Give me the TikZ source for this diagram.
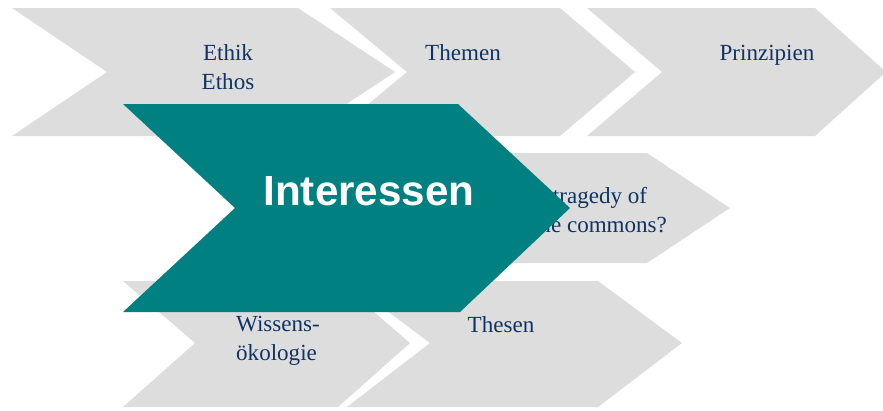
\documentclass[tikz,border=0pt]{standalone}
\usepackage{fontspec}
\setmainfont{Liberation Serif}
\newfontfamily\headfont{Liberation Sans}
\usetikzlibrary{positioning}
\definecolor{chevgrey}{RGB}{221,221,221}
\definecolor{chevteal}{RGB}{0,128,128}
\definecolor{labelblue}{RGB}{16,52,100}
\tikzset{
    greychev/.style={
        fill=chevgrey
    },
    tealchev/.style={
        fill=chevteal
    },
    chevtext/.style={
        text=labelblue,
        font=\fontsize{16.4}{20.6}\selectfont,
        align=center,
        anchor=base,
        inner sep=0pt
    },
    headtext/.style={
        text=white,
        font=\headfont\bfseries\fontsize{30}{36}\selectfont,
        anchor=base,
        inner sep=0pt
    },
}

\begin{document}
\begin{tikzpicture}[x=0.025cm, y=-0.025cm]
    \useasboundingbox (0,0) rectangle (883,410);
    % grey chevrons
    \fill[greychev] (12,8) -- (298,8) -- (395,72) -- (298,136) -- (12,136) -- (107,72) -- cycle;
    \fill[greychev] (330,8) -- (560,8) -- (635,72) -- (560,136) -- (330,136) -- (407,72) -- cycle;
    \fill[greychev] (587,8) -- (815,8) -- (886,72) -- (815,136) -- (587,136) -- (662,72) -- cycle;
    \fill[greychev] (400,153) -- (647,153) -- (730,208) -- (647,263) -- (400,263) -- (470,208) -- cycle;
    \fill[greychev] (123,281) -- (338,281) -- (410,343) -- (338,407) -- (123,407) -- (195,343) -- cycle;
    \fill[greychev] (347,281) -- (598,281) -- (682,343) -- (598,407) -- (347,407) -- (430,343) -- cycle;

    % labels (two-line nodes sit on their last baseline)
    \node[chevtext] (ethik) at (228,89) {Ethik\\Ethos};
    \node[chevtext] (themen) at (463,60) {Themen};
    \node[chevtext] (prinzipien) at (767,60) {Prinzipien};
    \node[chevtext] (tragedy) at (600,232) {tragedy of\\the commons?};
    \node[chevtext, align=left] (wissens) at (278,360) {Wissens-\\ökologie};
    \node[chevtext] (thesen) at (501,332) {Thesen};

    % main chevron on top
    \fill[tealchev] (123,104) -- (458,104) -- (570,208) -- (460,312) -- (123,312) -- (235,208) -- cycle;
    \node[headtext] (interessen) at (369,205) {Interessen};
\end{tikzpicture}
\end{document}
